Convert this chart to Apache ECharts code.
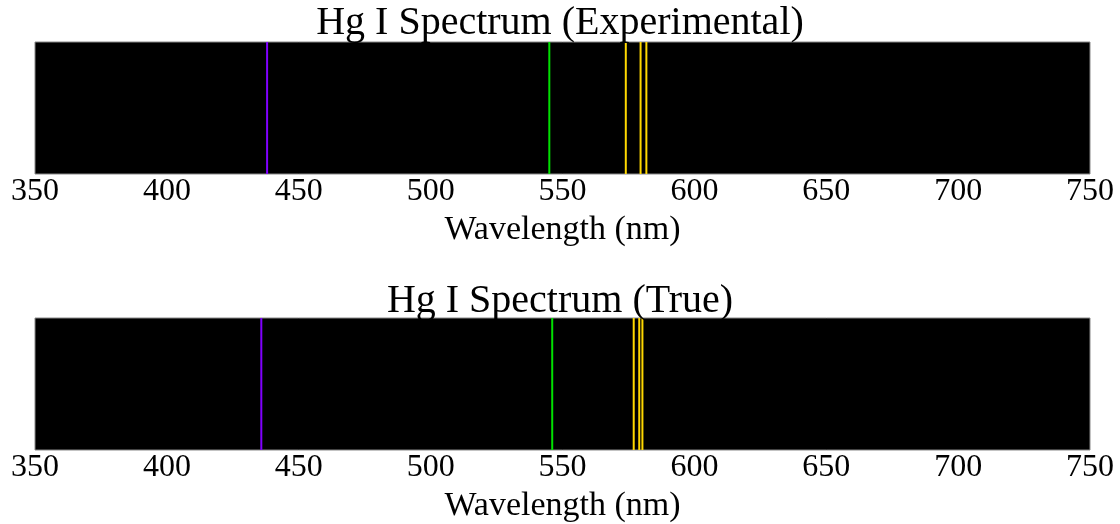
<!DOCTYPE html>
<html>

<head>
    <meta charset="utf-8">
    <script src="https://cdn.jsdelivr.net/npm/echarts@6/dist/echarts.min.js"></script>
</head>

<body style="margin:0;background:#fff;">
    <div id="main" style="width: 1120px;height:524px;"></div>
    <script type="text/javascript">
        // spectral lines (nm)
        var expLines = [438.0, 545.0, 574.0, 579.6, 581.8];
        var trueLines = [435.8, 546.1, 577.0, 579.1, 580.3];
        var lineColors = ['#8000ff', '#00e000', '#ffd800', '#ffd800', '#ffd800'];
        var titles = ['Hg I Spectrum (Experimental)', 'Hg I Spectrum (True)'];
        var xMin = 350, xMax = 750, xStep = 50;

        var font = 'Liberation Serif';
        var myChart = echarts.init(document.getElementById('main'));

        function makeSeries(lines, idx) {
            return lines.map(function (w, i) {
                return {
                    type: 'line',
                    xAxisIndex: idx,
                    yAxisIndex: idx,
                    data: [[w, 0], [w, 1]],
                    showSymbol: false,
                    silent: true,
                    lineStyle: { color: lineColors[i], width: 2 }
                };
            });
        }

        var xAxisBase = function (idx) {
            return {
                gridIndex: idx,
                type: 'value',
                min: xMin,
                max: xMax,
                interval: xStep,
                name: 'Wavelength (nm)',
                nameLocation: 'middle',
                nameGap: 39,
                nameTextStyle: { fontFamily: font, fontSize: 34, color: '#000' },
                axisLine: { show: false },
                axisTick: { show: false },
                splitLine: { show: false },
                axisLabel: { fontFamily: font, fontSize: 32, color: '#000', margin: 2 }
            };
        };

        var option = {
            animation: false,
            title: [
                { text: titles[0], left: 'center', top: -2, textStyle: { fontFamily: font, fontSize: 40, fontWeight: 'normal', color: '#000' } },
                { text: titles[1], left: 'center', top: 276, textStyle: { fontFamily: font, fontSize: 40, fontWeight: 'normal', color: '#000' } }
            ],
            grid: [
                { left: 35, right: 30, top: 42, height: 132, show: true, backgroundColor: '#000', borderColor: '#888', borderWidth: 1 },
                { left: 35, right: 30, top: 318, height: 132, show: true, backgroundColor: '#000', borderColor: '#888', borderWidth: 1 }
            ],
            xAxis: [xAxisBase(0), xAxisBase(1)],
            yAxis: [
                { gridIndex: 0, type: 'value', min: 0, max: 1, show: false },
                { gridIndex: 1, type: 'value', min: 0, max: 1, show: false }
            ],
            series: makeSeries(expLines, 0).concat(makeSeries(trueLines, 1))
        };

        myChart.setOption(option);
    </script>
</body>

</html>
